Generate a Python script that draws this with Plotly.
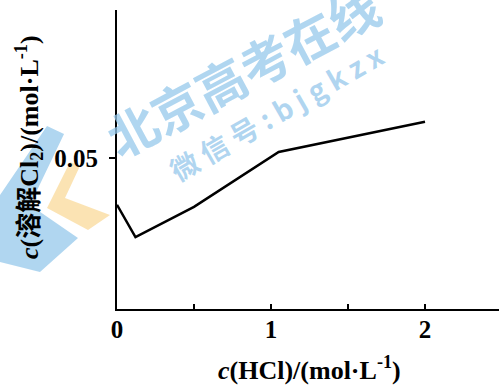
import plotly.graph_objects as go

# Data
hcl = [0.0, 0.12, 0.5, 1.05, 2.0]
cl2 = [0.0345, 0.0238, 0.0338, 0.052, 0.062]
x_tick_vals = [0, 0.5, 1, 1.5, 2]
x_tick_text = ["0", "", "1", "", "2"]
y_tick_vals = [0.05]
y_tick_text = ["0.05"]

W, H = 499, 385
L, R, T, B = 117, 0, 10, 76
PW, PH = W - L - R, H - T - B

def px(x, y):
    return (x - L) / PW, (H - B - y) / PH

def poly(points):
    pts = [px(x, y) for x, y in points]
    return "M " + " L ".join(f"{a:.4f},{b:.4f}" for a, b in pts) + " Z"

serif = "Liberation Serif, Times New Roman, Noto Sans CJK SC, serif"
wm = "rgba(150,200,235,0.75)"

fig = go.Figure()
fig.add_trace(go.Scatter(x=hcl, y=cl2, mode="lines",
                         line=dict(color="black", width=2.5),
                         showlegend=False, hoverinfo="skip"))

shapes = [
    dict(type="path", xref="paper", yref="paper", layer="below",
         path=poly([(47, 126), (64, 134), (30, 205), (78, 238), (40, 272), (0, 262), (0, 195)]),
         fillcolor=wm, line=dict(width=0)),
    dict(type="path", xref="paper", yref="paper", layer="below",
         path=poly([(70, 162), (80, 166), (65, 198), (110, 215), (88, 230), (47, 208)]),
         fillcolor="rgba(250,220,160,0.8)", line=dict(width=0)),
]

annotations = [
    dict(text="<b>北京高考在线</b>", xref="paper", yref="paper", x=px(242, 70)[0], y=px(242, 70)[1],
         showarrow=False, textangle=-28, font=dict(size=50, color=wm,
         family="Noto Sans CJK SC"), xanchor="center", yanchor="middle"),
    dict(text="<b>微 信 号 : b j g k z x</b>", xref="paper", yref="paper", x=px(276, 112)[0], y=px(276, 112)[1],
         showarrow=False, textangle=-30, font=dict(size=28, color=wm,
         family="Noto Sans CJK SC"), xanchor="center", yanchor="middle"),
    dict(text="<i>c</i>(溶解Cl<sub>2</sub>)/(mol·L<sup>-1</sup>)", xref="paper", yref="paper",
         x=px(29, 147)[0], y=px(29, 147)[1], showarrow=False, textangle=-90,
         font=dict(size=26, color="black", family=serif, weight="bold"),
         xanchor="center", yanchor="middle"),
    dict(text="<i>c</i>(HCl)/(mol·L<sup>-1</sup>)", xref="paper", yref="paper",
         x=px(309, 368)[0], y=px(309, 368)[1], showarrow=False,
         font=dict(size=26, color="black", family=serif, weight="bold"),
         xanchor="center", yanchor="middle"),
]

fig.update_layout(
    width=W, height=H,
    margin=dict(l=L, r=R, t=T, b=B, pad=0, autoexpand=False),
    paper_bgcolor="white", plot_bgcolor="rgba(0,0,0,0)",
    shapes=shapes, annotations=annotations,
    font=dict(family=serif, color="black"),
)
fig.update_xaxes(range=[0, PW / 154], showgrid=False, zeroline=False,
                 showline=True, linecolor="black", linewidth=2,
                 tickmode="array", tickvals=x_tick_vals, ticktext=x_tick_text,
                 ticks="inside", ticklen=5, tickwidth=2, tickcolor="black",
                 ticklabelstandoff=-3,
                 tickfont=dict(size=25, family=serif, color="black", weight="bold"))
fig.update_yaxes(range=[0, PH / 3020], showgrid=False, zeroline=False,
                 showline=True, linecolor="black", linewidth=2,
                 tickmode="array", tickvals=y_tick_vals, ticktext=y_tick_text,
                 ticks="outside", ticklen=6, tickwidth=1.5, tickcolor="black",
                 ticklabelstandoff=6,
                 tickfont=dict(size=25, family=serif, color="black", weight="bold"))

fig.write_html("out.html", config={"displayModeBar": False},
               post_script="document.body.style.margin='0';document.body.style.overflow='hidden';")
